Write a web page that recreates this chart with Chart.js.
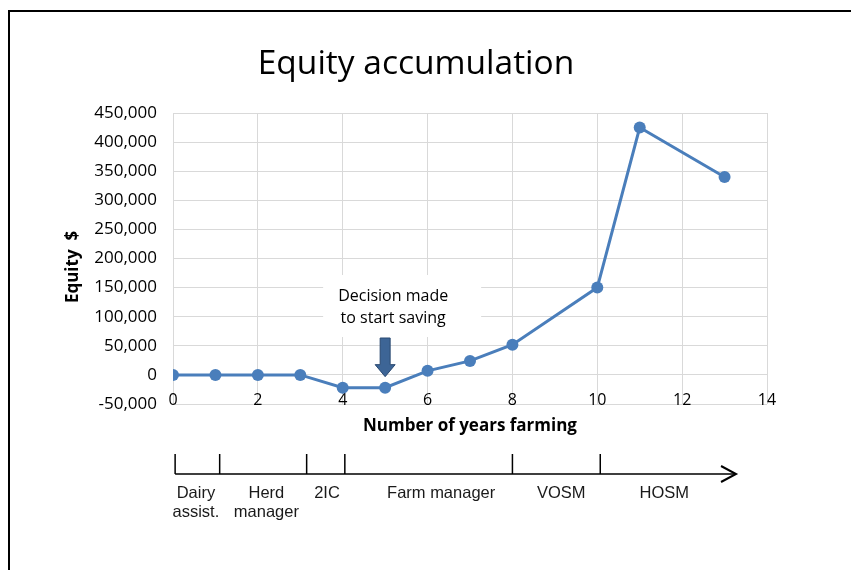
<!DOCTYPE html>
<html>
<head>
<meta charset="utf-8">
<script src="https://cdn.jsdelivr.net/npm/chart.js@4"></script>
<style>
  html, body { margin: 0; padding: 0; background: #fff; }
  #wrap { position: relative; width: 851px; height: 570px; }
  #frame { position: absolute; left: 8px; top: 10px; right: 0; bottom: 0; border-left: 2px solid #000; border-top: 2px solid #000; pointer-events: none; }
  canvas { position: absolute; left: 0; top: 0; }
</style>
</head>
<body>
<div id="wrap">
  <canvas id="c" width="851" height="570"></canvas>
  <div id="frame"></div>
</div>
<script>
// ---- data ----
const years = [0, 1, 2, 3, 4, 5, 6, 7, 8, 10, 11, 13];
const equity = [0, 0, 0, 0, -22000, -22000, 7000, 24000, 52000, 150000, 425000, 340000];
const xTicks = [0, 2, 4, 6, 8, 10, 12, 14];
const yTicks = [-50000, 0, 50000, 100000, 150000, 200000, 250000, 300000, 350000, 400000, 450000];

// career timeline (years on the x scale)
const stageBoundaries = [0.05, 1.1, 3.15, 4.05, 8.0, 10.07];
const timelineEnd = 13.27;
const stageLabels = [["Dairy", "assist."], ["Herd", "manager"], ["2IC"], ["Farm manager"], ["VOSM"], ["HOSM"]];
const stageLabelYears = [0.54, 2.2, 3.63, 6.32, 9.15, 11.58];

// annotation
const decisionYear = 5;
const decisionText = ["Decision made", "to start saving"];

const blue = '#4A7EBB';
const grid = '#d9d9d9';

const extras = {
  id: 'extras',
  beforeDatasetsDraw(chart) {
    const ctx = chart.ctx;
    const xs = chart.scales.x;
    const ax = xs.getPixelForValue(decisionYear);
    ctx.save();
    ctx.fillStyle = '#fff';
    ctx.fillRect(ax - 62, 275, 158, 62);
    ctx.restore();
  },
  afterDatasetsDraw(chart) {
    const ctx = chart.ctx;
    const xs = chart.scales.x, ys = chart.scales.y;
    ctx.save();
    // y axis title
    ctx.save();
    ctx.translate(73, 267);
    ctx.rotate(-Math.PI / 2);
    ctx.fillStyle = '#000';
    ctx.font = 'bold 17px "Open Sans"';
    ctx.textAlign = 'center';
    ctx.textBaseline = 'middle';
    ctx.fillText('Equity  $', 0, 0);
    ctx.restore();

    const ax = xs.getPixelForValue(decisionYear);
    ctx.fillStyle = '#000';
    ctx.font = '16px "Open Sans"';
    ctx.textAlign = 'center';
    ctx.textBaseline = 'middle';
    ctx.fillText(decisionText[0], ax + 8, 296);
    ctx.fillText(decisionText[1], ax + 8, 318);
    // arrow
    const tipY = ys.getPixelForValue(-3000);
    ctx.beginPath();
    ctx.moveTo(ax - 5, 338);
    ctx.lineTo(ax + 5, 338);
    ctx.lineTo(ax + 5, tipY - 12);
    ctx.lineTo(ax + 10, tipY - 12);
    ctx.lineTo(ax, tipY);
    ctx.lineTo(ax - 10, tipY - 12);
    ctx.lineTo(ax - 5, tipY - 12);
    ctx.closePath();
    ctx.fillStyle = '#3D6596';
    ctx.fill();
    ctx.strokeStyle = '#2B4A72';
    ctx.lineWidth = 1;
    ctx.stroke();

    // timeline
    const ty = 474;
    ctx.strokeStyle = '#000';
    ctx.lineWidth = 1.5;
    ctx.beginPath();
    const x0 = xs.getPixelForValue(stageBoundaries[0]);
    const xe = xs.getPixelForValue(timelineEnd);
    ctx.moveTo(x0, ty);
    ctx.lineTo(xe, ty);
    stageBoundaries.forEach(b => {
      const px = xs.getPixelForValue(b);
      ctx.moveTo(px, ty);
      ctx.lineTo(px, ty - 20);
    });
    ctx.stroke();
    ctx.lineWidth = 2;
    ctx.beginPath();
    ctx.moveTo(xe - 15, ty - 8);
    ctx.lineTo(xe, ty);
    ctx.lineTo(xe - 15, ty + 8);
    ctx.stroke();

    ctx.fillStyle = '#1a1a1a';
    ctx.font = '16.5px "Liberation Sans"';
    ctx.textAlign = 'center';
    ctx.textBaseline = 'middle';
    stageLabels.forEach((lines, i) => {
      const px = xs.getPixelForValue(stageLabelYears[i]);
      lines.forEach((t, j) => ctx.fillText(t, px, 493 + j * 19));
    });
    ctx.restore();
  }
};

new Chart(document.getElementById('c'), {
  type: 'scatter',
  data: {
    datasets: [{
      data: years.map((x, i) => ({ x, y: equity[i] })),
      showLine: true,
      borderColor: blue,
      backgroundColor: blue,
      borderWidth: 3,
      pointRadius: 6,
      pointHoverRadius: 6,
      pointBorderWidth: 0
    }]
  },
  options: {
    responsive: false,
    animation: false,
    layout: { padding: { top: 113, right: 84, bottom: 166, left: 0 } },
    plugins: {
      legend: { display: false },
      tooltip: { enabled: false },
      title: { display: false }
    },
    scales: {
      x: {
        type: 'linear',
        position: { y: 0 },
        min: 0, max: 14,
        afterBuildTicks: s => { s.ticks = xTicks.map(v => ({ value: v })); },
        afterFit: s => { s.height = 61; },
        grid: { color: grid, lineWidth: 1, drawTicks: false },
        border: { color: grid, width: 1 },
        ticks: { color: '#000', font: { family: 'Open Sans', size: 16 }, padding: 16, maxRotation: 0 },
        title: { display: true, text: 'Number of years farming', color: '#000', font: { family: 'Open Sans', size: 17, weight: 'bold' }, padding: 0 }
      },
      y: {
        min: -50000, max: 450000,
        afterBuildTicks: s => { s.ticks = yTicks.map(v => ({ value: v })); },
        afterFit: s => { s.width = 173; },
        grid: { color: grid, lineWidth: 1, drawTicks: false },
        border: { display: false },
        ticks: {
          color: '#000', font: { family: 'Open Sans', size: 17 }, padding: 16,
          callback: v => v.toLocaleString('en-US')
        },
        title: { display: false }
      }
    }
  },
  plugins: [extras, {
    id: 'mainTitle',
    afterDraw(chart) {
      const ctx = chart.ctx;
      ctx.save();
      ctx.fillStyle = '#000';
      ctx.font = '33.5px "Open Sans"';
      ctx.textAlign = 'center';
      ctx.textBaseline = 'middle';
      ctx.fillText('Equity accumulation', 416, 64);
      ctx.restore();
    }
  }]
});
</script>
</body>
</html>
